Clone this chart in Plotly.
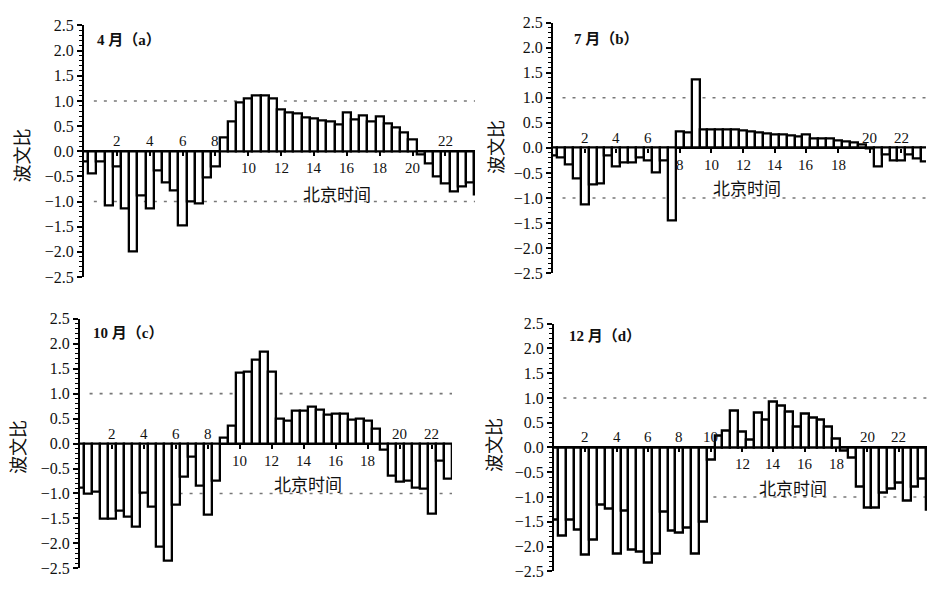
import plotly.graph_objects as go

# Half-hourly Bowen ratio (波文比) by Beijing time, one list per month
hours_step = 0.5
apr = [-0.20, -0.45, -0.20, -1.08, -0.30, -1.13, -2.00, -0.87, -1.13, -0.38, -0.62, -0.78, -1.48, -1.00, -1.04, -0.52, -0.30,
       0.27, 0.59, 0.97, 1.04, 1.11, 1.11, 1.04, 0.84, 0.78, 0.76, 0.68, 0.65, 0.62, 0.60, 0.53, 0.78, 0.64, 0.71, 0.60,
       0.69, 0.56, 0.48, 0.37, 0.24,
       -0.07, -0.25, -0.51, -0.65, -0.80, -0.70, -0.62, -0.85]
jul = [-0.15, -0.19, -0.33, -0.62, -1.13, -0.74, -0.72, -0.16, -0.38, -0.29, -0.29, -0.20, -0.26, -0.50, -0.26, -1.45,
       0.33, 0.30, 1.37, 0.36, 0.37, 0.37, 0.37, 0.36, 0.35, 0.33, 0.30, 0.28, 0.27, 0.26, 0.25, 0.23, 0.26, 0.19, 0.19,
       0.18, 0.15, 0.13, 0.10, 0.06,
       -0.02, -0.38, -0.14, -0.25, -0.25, -0.13, -0.22, -0.28]
octo = [-0.88, -1.00, -0.97, -1.50, -1.50, -1.34, -1.47, -1.67, -0.98, -1.27, -2.06, -2.34, -1.23, -0.67, -0.26, -0.84,
        -1.42, -0.74,
        0.12, 0.36, 1.42, 1.44, 1.67, 1.83, 1.44, 0.49, 0.46, 0.65, 0.65, 0.73, 0.67, 0.58, 0.60, 0.59, 0.47, 0.49, 0.46,
        0.29,
        -0.13, -0.64, -0.77, -0.75, -0.88, -0.90, -1.40, -0.34, -0.71]
dec = [-1.46, -1.79, -1.46, -1.65, -2.16, -1.87, -1.16, -1.23, -2.14, -1.27, -2.06, -2.10, -2.33, -2.14, -1.30, -1.68,
       -1.72, -1.61, -2.14, -1.49, -0.24,
       0.23, 0.33, 0.75, 0.31, 0.16, 0.71, 0.56, 0.92, 0.84, 0.72, 0.42, 0.68, 0.60, 0.56, 0.42, 0.17,
       -0.07, -0.20, -0.80, -1.21, -1.21, -0.91, -0.84, -0.72, -1.08, -0.80, -0.62, -1.25]

panel_titles = ["4 月（a）", "7 月（b）", "10 月（c）", "12 月（d）"]
hour_ticks = [2, 4, 6, 8, 10, 12, 14, 16, 18, 20, 22]
y_ticks = [2.5, 2.0, 1.5, 1.0, 0.5, 0.0, -0.5, -1.0, -1.5, -2.0, -2.5]
y_title = "波文比"
x_title = "北京时间"

W, H = 942, 590
SERIF = "Liberation Serif, DejaVu Serif, serif"
CJK = "Noto Sans CJK SC, sans-serif"
INK = "#111111"


def px(xp):
    return xp / W


def py(yp):
    return 1 - yp / H


# panel geometry in pixels: x-left, x-right, y(+2.5), y(-2.5), x-range end (hours)
panels = [
    dict(data=apr, x0=84, x1=475, yt=18, yb=277, xend=23.8,
         title=(95, 33), ytitle=(21, 152), xtitle=(337, 191)),
    dict(data=jul, x0=553, x1=926, yt=15, yb=273, xend=23.55,
         title=(572, 32), ytitle=(495, 143), xtitle=(747, 185)),
    dict(data=octo, x0=80, x1=452, yt=320, yb=577, xend=23.27,
         title=(91, 335), ytitle=(17, 452), xtitle=(308, 490)),
    dict(data=dec, x0=554, x1=927, yt=325, yb=580, xend=23.8,
         title=(567, 338), ytitle=(493, 450), xtitle=(793, 494)),
]

fig = go.Figure()
layout = dict(
    width=W, height=H,
    margin=dict(l=0, r=0, t=0, b=0),
    paper_bgcolor="white", plot_bgcolor="white",
    showlegend=False, bargap=0,
)
annotations = []
shapes = []

ytext = [f"{v:.1f}".replace("-", "−") for v in y_ticks]

for i, p in enumerate(panels, start=1):
    sfx = "" if i == 1 else str(i)
    xa, ya = "x" + sfx, "y" + sfx
    vals = p["data"]
    hrs = [k * hours_step for k in range(len(vals))]

    fig.add_trace(go.Bar(
        x=hrs, y=vals, width=hours_step,
        marker=dict(color="white", line=dict(color="black", width=2.3)),
        xaxis=xa, yaxis=ya, hoverinfo="skip",
    ))

    ydom = [py(p["yb"]), py(p["yt"])]
    zero_pos = (ydom[0] + ydom[1]) / 2

    layout["xaxis" + sfx] = dict(
        domain=[px(p["x0"]), px(p["x1"])], range=[0, p["xend"]],
        anchor="free", position=zero_pos,
        showline=False, showgrid=False, zeroline=False,
        tickvals=hour_ticks, ticks="outside", ticklen=4, tickwidth=1.5,
        tickcolor="black", showticklabels=False, fixedrange=True,
    )
    layout["yaxis" + sfx] = dict(
        domain=ydom, range=[-2.5, 2.5], anchor=xa,
        showline=True, linecolor="black", linewidth=2.2,
        showgrid=False, zeroline=True, zerolinecolor="black", zerolinewidth=2.2,
        tickvals=y_ticks, ticktext=ytext, ticks="outside", ticklen=5,
        tickwidth=1.5, tickcolor="black",
        minor=dict(dtick=0.1, ticks="outside", ticklen=3, tickcolor="black", tickwidth=1),
        tickfont=dict(family=SERIF, size=16, color=INK), fixedrange=True,
    )

    # reference levels at ±1
    for lvl in (1.0, -1.0):
        shapes.append(dict(
            type="line", xref=xa, yref=ya, x0=0.6, x1=p["xend"], y0=lvl, y1=lvl,
            line=dict(color="#777777", width=1.6, dash="3px,7px"), layer="below",
        ))

    # hour labels sit on the opposite side of the zero line from the bar
    for h in hour_ticks:
        k = int(round(h / hours_step))
        above = vals[k] < 0
        annotations.append(dict(
            x=h, y=0, xref=xa, yref=ya, text=str(h), showarrow=False,
            xanchor="center", yanchor="middle", yshift=10 if above else -17,
            font=dict(family=SERIF, size=15, color=INK),
        ))

    tx, ty = p["title"]
    annotations.append(dict(
        x=px(tx), y=py(ty), xref="paper", yref="paper", text="<b>" + panel_titles[i - 1] + "</b>",
        showarrow=False, xanchor="left", yanchor="middle",
        font=dict(family=SERIF + ", " + CJK, size=15, color=INK),
    ))
    yx, yy = p["ytitle"]
    annotations.append(dict(
        x=px(yx), y=py(yy), xref="paper", yref="paper", text=y_title,
        showarrow=False, textangle=-90, xanchor="center", yanchor="middle",
        font=dict(family=CJK, size=18, color=INK),
    ))
    xx, xy = p["xtitle"]
    annotations.append(dict(
        x=px(xx), y=py(xy), xref="paper", yref="paper", text=x_title,
        showarrow=False, xanchor="center", yanchor="middle",
        font=dict(family=CJK, size=17, color=INK),
    ))

layout["annotations"] = annotations
layout["shapes"] = shapes
fig.update_layout(**layout)
fig.write_html("out.html")
